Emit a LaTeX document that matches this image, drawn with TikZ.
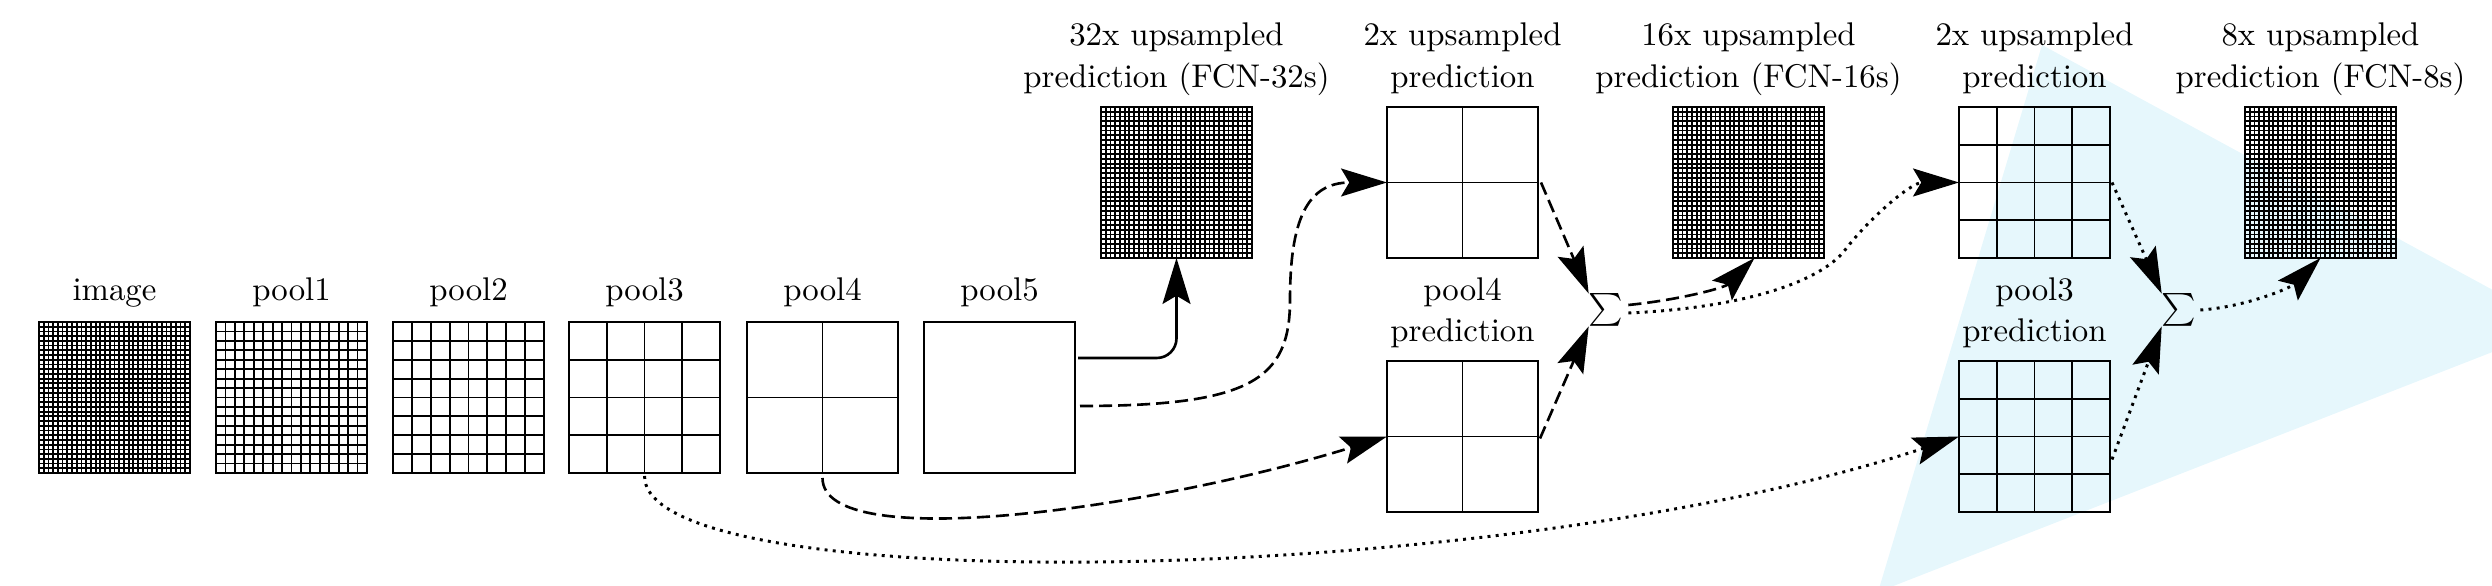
\documentclass[tikz,border=0pt]{standalone}
\usetikzlibrary{arrows.meta,calc}
\definecolor{tribg}{RGB}{230,247,252}
\tikzset{
  gridnode/.style={draw, line width=0.6pt, minimum width=46.02pt, minimum height=46.02pt,
    inner sep=0pt, outer sep=0pt, anchor=north west},
  gridline/.style={line width=0.55pt},
  lbl/.style={align=center, anchor=base, font=\fontsize{10pt}{12.8pt}\selectfont, inner sep=0pt},
  conn/.style={line width=0.8pt, -{Stealth[length=14pt,width=8.5pt,inset=2.5pt]}},
  solidconn/.style={conn, rounded corners=6pt},
  dashconn/.style={conn, dash pattern=on 4pt off 1.8pt},
  dotconn/.style={conn, line width=0.9pt, dash pattern=on 0.9pt off 1.6pt},
  sumnode/.style={inner sep=0pt, outer sep=0pt},
}
\newcommand\gbox[4]{%
  \node[gridnode] (#1) at (#2,#3) {};
  \ifnum#4>1
    \pgfmathsetmacro\gstep{151/#4}%
    \pgfmathtruncatemacro\gN{#4-1}%
    \foreach \i in {1,...,\gN}{%
      \draw[gridline] ({#2+\i*\gstep},#3) -- ++(0,151);
      \draw[gridline] (#2,{#3+\i*\gstep}) -- ++(151,0);
    }%
  \fi}
\begin{document}
\begin{tikzpicture}[x=0.3048pt,y=-0.3048pt]
\useasboundingbox (0,0) rectangle (2492,586);
% light blue triangle
\begin{scope}
  \clip (0,0) rectangle (2492,586);
  \fill[tribg] (2042,45) -- (2559,326) -- (1878,592) -- cycle;
\end{scope}
% bottom row
\gbox{img}{39}{322}{32}
\gbox{pool1}{216}{322}{16}
\gbox{pool2}{393}{322}{8}
\gbox{pool3}{569}{322}{4}
\gbox{pool4}{747}{322}{2}
\gbox{pool5}{924}{322}{1}
\node[lbl] (limg) at (114.5,301) {image};
\node[lbl] (lp1) at (291.5,301) {pool1};
\node[lbl] (lp2) at (468.5,301) {pool2};
\node[lbl] (lp3) at (644.5,301) {pool3};
\node[lbl] (lp4) at (822.5,301) {pool4};
\node[lbl] (lp5) at (999.5,301) {pool5};
% top row
\gbox{up32}{1101}{107}{32}
\gbox{up2}{1387}{107}{2}
\gbox{up16}{1673}{107}{32}
\gbox{up4}{1959}{107}{4}
\gbox{up8}{2245}{107}{32}
\node[lbl] (l32) at (1176.5,88) {32x upsampled\\prediction (FCN-32s)};
\node[lbl] (l2) at (1462.5,88) {2x upsampled\\prediction};
\node[lbl] (l16) at (1748.5,88) {16x upsampled\\prediction (FCN-16s)};
\node[lbl] (l4) at (2034.5,88) {2x upsampled\\prediction};
\node[lbl] (l8) at (2320.5,88) {8x upsampled\\prediction (FCN-8s)};
% prediction boxes
\gbox{p4pred}{1387}{361}{2}
\gbox{p3pred}{1959}{361}{4}
\node[lbl] (lp4p) at (1462.5,342) {pool4\\prediction};
\node[lbl] (lp3p) at (2034.5,342) {pool3\\prediction};
% sums
\node[sumnode] (s1) at (1606,310) {$\sum$};
\node[sumnode] (s2) at (2179,310) {$\sum$};
% helper coordinates
\coordinate (a1) at ($(pool5.east)+(3,-39.5)$);
\coordinate (a2) at ($(pool5.east)+(5,8.5)$);
\coordinate (m1) at (1290,300);
\coordinate (b1) at ($(pool4.south)+(0,5)$);
\coordinate (c1) at ($(pool3.south)+(0,3)$);
\coordinate (d1) at ($(s1.east)+(5,-5)$);
\coordinate (d2) at ($(s1.east)+(5,3)$);
\coordinate (m2) at (1845,250);
\coordinate (u16t) at ($(up16.south)+(6,0)$);
\coordinate (e1) at ($(s2.east)+(4,0)$);
\coordinate (f1) at ($(up2.east)+(3,0)$);
\coordinate (f2) at ($(p4pred.east)+(2,2)$);
\coordinate (g1) at ($(up4.east)+(2,0)$);
\coordinate (g2) at ($(p3pred.east)+(2,23)$);
% connectors
\draw[solidconn] (a1) -| (up32.south);
\draw[dashconn] (a2) .. controls +(170,0) and +(0,80) .. (m1)
                     .. controls +(0,-80) and +(-80,0) .. (up2.west);
\draw[dashconn] (b1) .. controls +(0,77) and +(-237,73) .. (p4pred.west);
\draw[dotconn] (c1) .. controls +(0,125) and +(-458,152) .. (p3pred.west);
\draw[dashconn] (f1) -- (s1.north west);
\draw[dashconn] (f2) -- (s1.south west);
\draw[dashconn] (d1) .. controls +(50,-5) and +(-30,30) .. (u16t);
\draw[dotconn] (d2) .. controls +(113,-5) and +(-25,32.5) .. (m2)
                    .. controls +(25,-32.5) and +(-48,0) .. (up4.west);
\draw[dotconn] (g1) -- (s2.north west);
\draw[dotconn] (g2) -- (s2.south west);
\draw[dotconn] (e1) .. controls +(45,-3) and +(-30,30) .. (up8.south);
\end{tikzpicture}
\end{document}
